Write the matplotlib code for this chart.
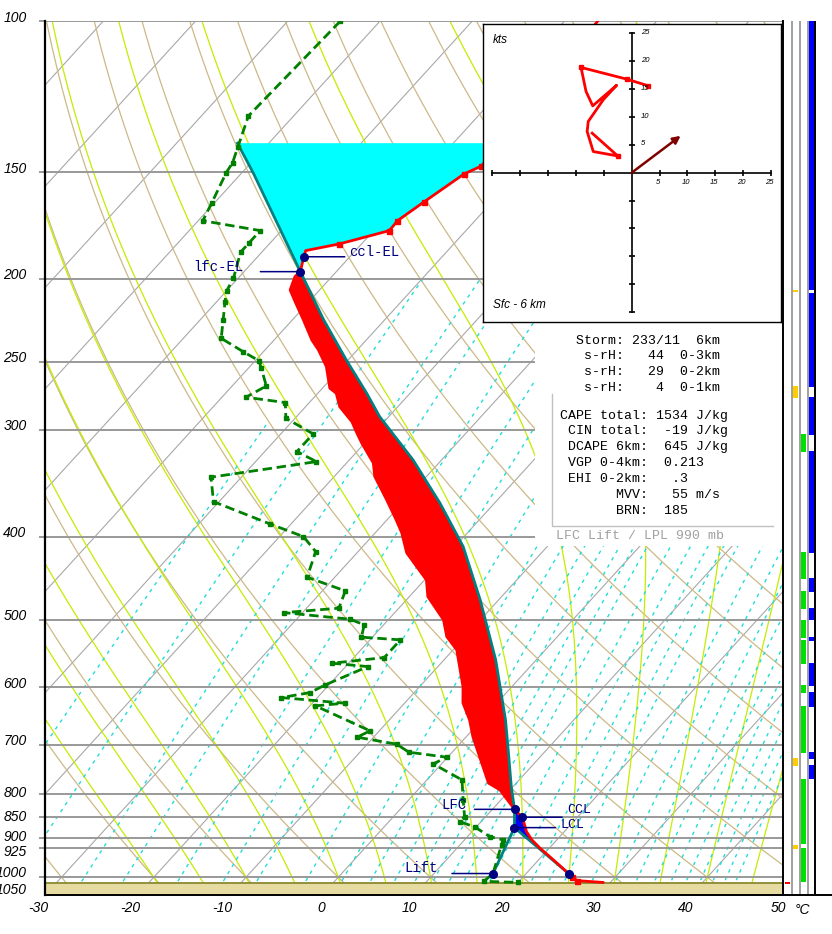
import numpy as np
import matplotlib
matplotlib.use("Agg")
import matplotlib.pyplot as plt
from matplotlib.patches import Rectangle
from matplotlib.lines import Line2D
from matplotlib.ticker import NullLocator, FixedLocator

# ---------------------------------------------------------------- data
isobars = [100, 150, 200, 250, 300, 400, 500, 600, 700, 800, 850, 900, 925, 1000]
p_labels = [100, 150, 200, 250, 300, 400, 500, 600, 700, 800, 850, 900, 925, 1000, 1050]
t_labels = [-30, -20, -10, 0, 10, 20, 30, 40, 50]

# environment temperature (hPa, degC)
temp_p = [100, 147.6, 150.8, 162.7, 171.0, 175.6, 182.0, 185.3, 188.4, 196.1, 198.7,
          206.0, 212.6, 223.3, 235.7, 242.1, 253.2, 268.3, 272.0, 282.0, 293.6, 302.9,
          311.1, 328.1, 340.3, 362.4, 382.4, 396.1, 417.9, 449.4, 470.0, 500.4, 523.4,
          542.5, 598.8, 625.6, 654.9, 684.9, 715.6, 776.4, 790.5, 833.0, 845.5, 861.0,
          884.5, 904.4, 924.7, 954.3, 990.0, 998.0, 1009.0, 1014.0]
temp_T = [-56.4, -54.7, -55.8, -57.4, -58.4, -58.3, -62.4, -65.4, -65.0, -63.9, -64.0,
          -63.2, -61.5, -58.8, -55.9, -54.2, -51.7, -49.2, -48.0, -46.3, -43.5, -41.8,
          -40.3, -37.1, -35.6, -32.0, -29.0, -27.1, -24.6, -19.8, -18.0, -14.0, -12.0,
          -9.6, -5.3, -3.7, -1.3, 0.7, 2.9, 7.0, 8.9, 12.4, 13.5, 14.6,
          15.9, 17.3, 19.0, 21.6, 24.6, 25.3, 26.2, 29.2]

# dewpoint (hPa, degC)
dew_p = [100, 129.0, 140.1, 146.3, 150.3, 162.9, 171.0, 175.6, 181.7, 186.1, 199.6,
         206.4, 212.6, 223.3, 234.6, 243.2, 249.2, 254.3, 266.7, 274.9, 278.9, 290.9,
         303.4, 318.2, 326.9, 340.9, 364.1, 386.5, 400.0, 416.4, 446.1, 462.9, 484.9,
         490.7, 499.5, 507.1, 524.2, 528.0, 553.8, 562.2, 567.4, 596.0, 608.5, 616.7,
         626.1, 630.6, 674.5, 686.0, 699.1, 714.3, 724.0, 737.2, 769.6, 812.1, 849.4,
         861.0, 874.0, 896.4, 904.4, 916.6, 990.0, 1011.0, 1014.0]
dew_T = [-84.3, -84.9, -83.0, -82.0, -81.7, -80.3, -79.5, -72.3, -72.3, -72.3, -70.5,
         -70.0, -69.1, -67.5, -65.9, -62.2, -59.6, -58.6, -56.3, -57.4, -52.6, -51.0,
         -46.5, -46.5, -43.4, -53.3, -50.6, -42.3, -37.4, -34.6, -33.0, -27.5, -26.5,
         -32.0, -24.2, -22.1, -21.2, -16.7, -16.7, -21.8, -17.6, -20.4, -21.3, -23.9,
         -16.5, -19.4, -11.0, -11.8, -6.8, -4.7, -0.1, -0.9, 3.8, 5.9, 7.7,
         7.7, 9.9, 12.4, 14.2, 14.5, 16.4, 16.2, 20.0]

# lifted parcel (LPL 990 hPa)
parcel_p = [990, 875, 833, 783.5, 716.2, 655.0, 557.2, 474.2, 410.9, 365.6, 325.4,
            289.6, 272.0, 248.7, 223.3, 196.1, 150.5, 138.8]
parcel_T = [24.6, 14.2, 12.4, 9.8, 6.2, 2.6, -4.4, -12.0, -19.1, -25.9, -33.1,
            -41.0, -44.7, -50.2, -56.6, -63.9, -78.7, -83.4]

surface_p = 1015
lpl_p, lpl_T, lpl_Td = 990, 24.6, 16.4
lcl_p, lcl_T = 875, 14.2
lfc_p, lfc_T = 833, 12.4
ccl_p, ccl_T = 850.8, 14.0
el_p, el_T = 196.1, -63.9
cclel_p, cclel_T = 188.4, -65.0

# hodograph (kts)
hodo_u = [-7.1, -2.5, -6.9, -8.0, -7.8, -5.1, -2.7, -7.0, -8.2, -9.1, -0.9, 3.0]
hodo_v = [7.1, 3.0, 3.8, 7.4, 9.2, 13.1, 15.7, 12.0, 14.6, 18.9, 16.8, 15.6]
storm_dir, storm_spd = 233, 11

# indices
srh = [("0-3km", 44), ("0-2km", 29), ("0-1km", 4)]
cape, cin, dcape, vgp, ehi, mvv, brn = 1534, -19, 645, "0.213", ".3", 55, 185

# side strips (pressure ranges, hPa)
strip_red = [(1011.6, 1017.0)]
strip_yellow = [(206.0, 207.4), (266.7, 275.2), (725.4, 740.5), (916.6, 926.6)]
strip_green = [(303.4, 318.2), (416.8, 448.2), (462.9, 485.8), (500.4, 524.8),
               (528.0, 562.8), (596.0, 608.5), (630.6, 715.0), (767.5, 914.9),
               (924.1, 1011.6)]
strip_blue = [(100, 206.0), (207.8, 267.2), (274.5, 304.3), (317.6, 417.6),
              (447.0, 464.2), (484.6, 500.4), (523.4, 529.4), (561.3, 597.6),
              (606.9, 631.8), (713.2, 727.3), (739.1, 767.5)]

mix_w = [0.1, 0.2, 0.4, 0.6, 1, 1.5, 2, 3, 4, 5, 6, 7, 8, 9, 10, 12, 14, 16, 18, 20,
         24, 28, 32, 36, 40, 44, 48, 52, 56, 60]
dry_theta = list(range(-30, 200, 10))
moist_tw = list(range(-20, 50, 5))
isotherms = list(range(-120, 60, 10))

# ---------------------------------------------------------------- setup
W, H = 832, 934
fig = plt.figure(figsize=(W / 100, H / 100), dpi=100, facecolor="white")
SANS = ["Liberation Sans", "DejaVu Sans"]
MONO = ["Liberation Mono", "DejaVu Sans Mono"]
plt.rcParams["font.family"] = SANS

P_BOT, P_TOP = 1050.0, 100.0
SKEW = 36.7


def sk(T, p):
    return np.asarray(T, float) + SKEW * np.log(P_BOT / np.asarray(p, float))


def fx(x):
    return x / W


def fy(y):
    return 1 - y / H


L, R, TOP, BOT = 45, 783, 21.3, 895.4
ax = fig.add_axes([fx(L), fy(BOT), (R - L) / W, (BOT - TOP) / H])
ax.set_yscale("log")
ax.set_ylim(P_BOT, P_TOP)
ax.set_xlim(-30, 50)
ax.yaxis.set_major_locator(FixedLocator(isobars))
ax.yaxis.set_minor_locator(NullLocator())
ax.set_yticklabels([])
ax.set_xticks([])
ax.tick_params(axis="y", length=4.5, width=1.4, color="#999999")
ax.spines["top"].set_visible(False)
for s, lw in (("left", 1.6), ("right", 1.4), ("bottom", 1.4)):
    ax.spines[s].set_linewidth(lw)
    ax.spines[s].set_zorder(10)

temp_p = np.array(temp_p); temp_T = np.array(temp_T)
dew_p = np.array(dew_p); dew_T = np.array(dew_T)
parcel_p = np.array(parcel_p); parcel_T = np.array(parcel_T)

# ---------------------------------------------------------------- background
for t in isotherms:
    ax.plot(sk([t, t], [P_BOT, P_TOP]), [P_BOT, P_TOP], color="#a8a8a8", lw=0.8, zorder=1)

pf = np.geomspace(P_BOT, P_TOP, 300)
for th in dry_theta:
    Tk = (th + 273.15) * (pf / 1000.0) ** 0.2857 - 273.15
    ax.plot(sk(Tk, pf), pf, color="#cdb987", lw=0.9, zorder=1.1)


def moist_adiabats(t0s):
    Rd, cp, Lv, eps = 287.04, 1005.7, 2.501e6, 0.622
    T0 = np.array(t0s, float) + 273.15

    def f(T, p):
        Tc = T - 273.15
        es = 6.112 * np.exp(17.67 * Tc / (Tc + 243.5))
        rs = eps * es / (p - es)
        return (Rd * T + Lv * rs) / (cp + Lv * Lv * rs * eps / (Rd * T * T))

    def integ(lnps):
        T = T0.copy()
        out = [T.copy()]
        for i in range(len(lnps) - 1):
            h = lnps[i + 1] - lnps[i]
            pa, pm, pb = np.exp(lnps[i]), np.exp(lnps[i] + h / 2), np.exp(lnps[i + 1])
            k1 = f(T, pa)
            k2 = f(T + h / 2 * k1, pm)
            k3 = f(T + h / 2 * k2, pm)
            k4 = f(T + h * k3, pb)
            T = T + h / 6 * (k1 + 2 * k2 + 2 * k3 + k4)
            out.append(T.copy())
        return np.array(out)

    up_l = np.linspace(np.log(1000), np.log(100), 361)
    dn_l = np.linspace(np.log(1000), np.log(1050), 11)
    up, dn = integ(up_l), integ(dn_l)
    lnp = np.concatenate([dn_l[::-1], up_l[1:]])
    TT = np.vstack([dn[::-1], up[1:]]) - 273.15
    return np.exp(lnp), TT


mp, mT = moist_adiabats(moist_tw)
for j in range(mT.shape[1]):
    ax.plot(sk(mT[:, j], mp), mp, color="#c4ec00", lw=0.9, zorder=1.2)

for w in mix_w:
    pp = np.geomspace(P_BOT, 200, 200)
    e = w * pp / (622.0 + w)
    lr = np.log(e / 6.112)
    Td = 243.5 * lr / (17.67 - lr)
    m = Td >= -52.5
    ax.plot(sk(Td[m], pp[m]), pp[m], color="#22dcd6", lw=1.0, ls=(0, (2.5, 3.5)), zorder=1.3)

for p in isobars:
    ax.axhline(p, color="#999999", lw=1.4, zorder=1.5)

# ground
ax.axhspan(surface_p, P_BOT, color="#e6dca2", zorder=3, lw=0)
ax.axhline(surface_p, color="#8c8a30", lw=1.3, zorder=3.1)

# ---------------------------------------------------------------- fills
par_x = sk(parcel_T, parcel_p)
env_x = sk(temp_T, temp_p)

# CAPE (red): parcel LFC->EL, env EL->LFC
mp_ = (parcel_p <= lfc_p) & (parcel_p >= el_p)
me_ = (temp_p <= lfc_p) & (temp_p >= el_p)
ax.fill(np.concatenate([par_x[mp_], env_x[me_]]),
        np.concatenate([parcel_p[mp_], temp_p[me_]]),
        color="#ff0000", lw=0, zorder=4)

# negative area above EL (cyan)
ptop = parcel_p[-1]
env_top_x = np.interp(np.log(ptop), np.log(temp_p), env_x)
mpa = parcel_p <= el_p
mea = (temp_p > ptop) & (temp_p <= el_p)
ax.fill(np.concatenate([par_x[mpa], [env_top_x], env_x[mea]]),
        np.concatenate([parcel_p[mpa], [ptop], temp_p[mea]]),
        color="#00ffff", lw=0, zorder=4)

# CIN (blue): parcel LPL->LFC, env LFC->LPL
mpc = parcel_p >= lfc_p
mec = (temp_p >= lfc_p) & (temp_p <= lpl_p)
ax.fill(np.concatenate([par_x[mpc], env_x[mec]]),
        np.concatenate([parcel_p[mpc], temp_p[mec]]),
        color="#0000ff", lw=0, zorder=4.1)

# ---------------------------------------------------------------- profiles
ax.plot(par_x, parcel_p, color="#008080", lw=2.0, zorder=5)
ax.plot(sk([lpl_Td, lcl_T], [lpl_p, lcl_p]), [lpl_p, lcl_p], color="#008080", lw=2.0, zorder=5)

ax.plot(env_x, temp_p, color="#ff0000", lw=2.0, zorder=6)
mk = ((temp_p >= 147) & (temp_p <= 183)) | ((temp_p > 995) & (temp_p < 1012))
ax.plot(env_x[mk], temp_p[mk], ls="none", marker="s", ms=3.6, color="#ff0000", zorder=6)

ax.plot(sk(dew_T, dew_p), dew_p, color="#008000", lw=2.0, ls=(0, (3.4, 1.7)),
        marker="s", ms=3.4, zorder=6)

# ---------------------------------------------------------------- level markers & labels
NAVY = "#000080"
levels = [
    ("lfc-EL", el_T, el_p, -107, 4.7, -40, 10),
    ("ccl-EL", cclel_T, cclel_p, 45, 5.0, 41, 10),
    ("LFC", lfc_T, lfc_p, -73, 4.2, -40, 10),
    ("CCL", ccl_T, ccl_p, 45, 7.0, 40, 9.5),
    ("LCL", lcl_T, lcl_p, 46, 2.5, 41, 9.5),
    ("Lift", lpl_Td, lpl_p, -89, 5.3, -41, 10),
]
for name, T, p, dx, dy, lead, fs in levels:
    xy = (float(sk(T, p)), p)
    ax.annotate("", xy=xy, xytext=(lead, 0), textcoords="offset pixels",
                arrowprops=dict(arrowstyle="-", color=NAVY, lw=1.1, shrinkA=0, shrinkB=0),
                zorder=8)
    ax.annotate(name, xy=xy, xytext=(dx, dy), textcoords="offset pixels",
                ha="left", va="center", family=MONO, fontsize=fs, color=NAVY, zorder=8)
    ax.plot([xy[0]], [p], marker="o", ms=5.5, color=NAVY, zorder=9)
ax.plot([float(sk(lpl_T, lpl_p))], [lpl_p], marker="o", ms=5.5, color=NAVY, zorder=9)

# ---------------------------------------------------------------- axis labels
for t in t_labels:
    ax.annotate(str(t), xy=(t, P_BOT), xytext=(3, -13), textcoords="offset pixels",
                ha="right", va="center", fontsize=10, style="italic", annotation_clip=False)
ydy = {1050: 5, 1000: 4, 800: 1, 850: 0, 900: 1, 925: -4}
for p in p_labels:
    ax.annotate(str(p), xy=(0, p), xycoords=("axes fraction", "data"),
                xytext=(-18.5, ydy.get(p, 3.5)), textcoords="offset pixels",
                ha="right", va="center", fontsize=10, style="italic", annotation_clip=False)

# ---------------------------------------------------------------- text block
ax.add_patch(Rectangle((fx(535), fy(546)), (783 - 535) / W, (546 - 322) / H,
                       transform=fig.transFigure, facecolor="white", edgecolor="none",
                       zorder=7))
blk1 = ["Storm: %d/%d  6km" % (storm_dir, storm_spd)]
for lay, val in srh:
    blk1.append(" s-rH:  %3d  %s" % (val, lay))
for i, s in enumerate(blk1):
    fig.text(fx(575.7), fy([340.7, 356.0, 372.3, 388.3][i]), s, family=MONO,
             fontsize=9.5, ha="left", va="center", zorder=20)
blk2 = ["CAPE total: %4d J/kg" % cape,
        " CIN total: %4d J/kg" % cin,
        " DCAPE 6km: %4d J/kg" % dcape,
        " VGP 0-4km:  %s" % vgp,
        " EHI 0-2km:   %s" % ehi,
        "       MVV:   %d m/s" % mvv,
        "       BRN:  %d" % brn]
ys2 = [415.7, 431.0, 447.3, 463.3, 479.0, 495.3, 511.0]
for s, y in zip(blk2, ys2):
    fig.text(fx(560), fy(y), s, family=MONO, fontsize=9.5, ha="left", va="center", zorder=20)
fig.text(fx(556), fy(536), "LFC Lift / LPL %d mb" % lpl_p, family=MONO, fontsize=9.5,
         ha="left", va="center", color="#a0a0a0", zorder=20)
fig.add_artist(Line2D([fx(551.7), fx(551.7), fx(773.3)], [fy(394), fy(525.7), fy(525.7)],
                      transform=fig.transFigure, color="#c0c0c0", lw=1.0, zorder=20))

# ---------------------------------------------------------------- hodograph
hx0, hy0, hx1, hy1 = 483, 24, 781, 322
ox, oy, sc = 631.7, 172.7, 5.57
hax = fig.add_axes([fx(hx0), fy(hy1), (hx1 - hx0) / W, (hy1 - hy0) / H])
hax.set_zorder(30)
hax.set_facecolor("white")
hax.set_xlim((hx0 - ox) / sc, (hx1 - ox) / sc)
hax.set_ylim((oy - hy1) / sc, (oy - hy0) / sc)
hax.set_xticks([]); hax.set_yticks([])
for s in hax.spines.values():
    s.set_linewidth(1.0)
rng = 25
hax.plot([-rng, rng], [0, 0], color="black", lw=1.2)
hax.plot([0, 0], [-rng, rng], color="black", lw=1.2)
tv = np.array([v for v in range(-rng, rng + 1, 5) if v != 0])
hax.plot(tv, np.zeros_like(tv), ls="none", marker="|", ms=5, mew=1.2, color="black")
hax.plot(np.zeros_like(tv), tv, ls="none", marker="_", ms=5, mew=1.2, color="black")
for v in tv[tv > 0]:
    hax.annotate(str(v), xy=(v, 0), xytext=(-1.5, -9.5), textcoords="offset pixels",
                 ha="center", va="center", fontsize=5.5, style="italic")
    hax.annotate(str(v), xy=(0, v), xytext=(9.5, 1.0), textcoords="offset pixels",
                 ha="left", va="center", fontsize=5.5, style="italic")
hax.plot(hodo_u, hodo_v, color="#ff0000", lw=2.0, marker="s", ms=3.2,
         markevery=[1, 9, 10, 11], solid_joinstyle="round")
su = storm_spd * np.sin(np.radians(storm_dir - 180))
sv = storm_spd * np.cos(np.radians(storm_dir - 180))
hax.annotate("", xy=(su, sv), xytext=(0, 0),
             arrowprops=dict(arrowstyle="-|>", color="#800000", lw=1.8, mutation_scale=11,
                             shrinkA=0, shrinkB=0))
hax.text(0.034, 0.946, "kts", transform=hax.transAxes, fontsize=8.5, style="italic",
         ha="left", va="center")
hax.text(0.034, 0.057, "Sfc - 6 km", transform=hax.transAxes, fontsize=8.5,
         style="italic", ha="left", va="center")

# ---------------------------------------------------------------- side strips
sax = fig.add_axes([fx(783), fy(BOT), 49 / W, (BOT - TOP) / H])
sax.set_yscale("log")
sax.set_ylim(P_BOT, P_TOP)
sax.set_xlim(0, 49)
sax.axis("off")
for xv in (8.7, 16.5, 24.7):
    sax.axvline(xv, color="#a0a0a0", lw=1.4)
sax.axvline(32, color="black", lw=1.4)
sax.axhline(P_BOT, color="black", lw=1.4, clip_on=False)
for spans, x0, x1, col in ((strip_red, 2, 7, "#ff0000"),
                           (strip_yellow, 10, 15, "#ffcc00"),
                           (strip_green, 18, 23, "#00e000"),
                           (strip_blue, 25.3, 31.3, "#0000ff")):
    for a, b in spans:
        sax.axhspan(a, b, xmin=x0 / 49, xmax=x1 / 49, color=col, lw=0)
fig.text(fx(802), fy(910), "°C", fontsize=10, style="italic", ha="center", va="center")

fig.savefig("out.png", dpi=100, facecolor="white")
